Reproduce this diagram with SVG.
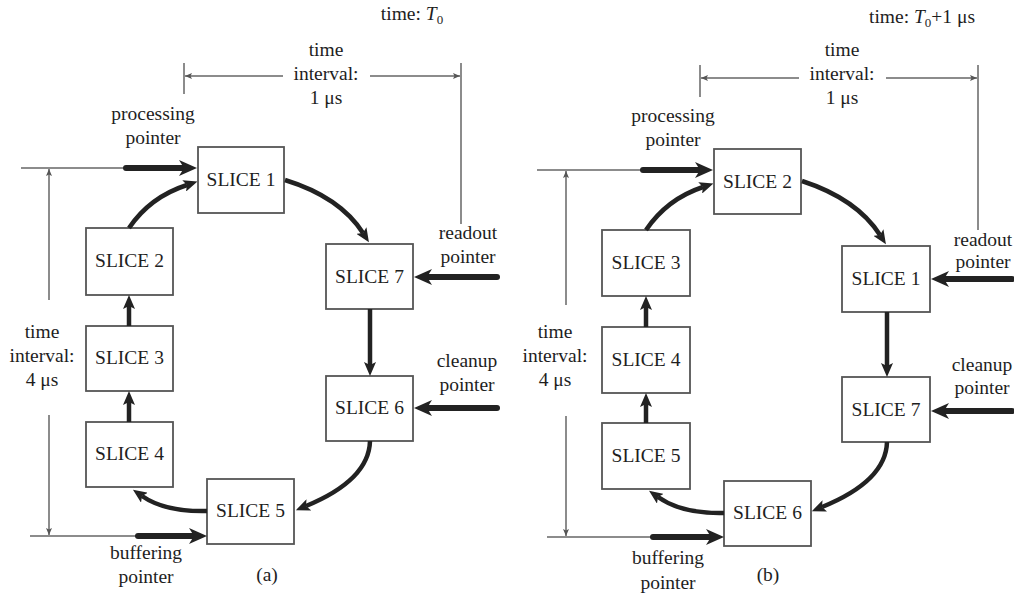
<svg xmlns="http://www.w3.org/2000/svg" width="1014" height="595" viewBox="0 0 1014 595">
<defs>
<marker id="big" viewBox="0 -8 18 16" refX="5" refY="0" markerWidth="18" markerHeight="16" markerUnits="userSpaceOnUse" orient="auto">
<path d="M0,-8 L18,0 L0,8 L5,0 z" fill="#222"/>
</marker>
<marker id="mid" viewBox="0 -6 14 12" refX="3" refY="0" markerWidth="14" markerHeight="12" markerUnits="userSpaceOnUse" orient="auto">
<path d="M0,-6 L14,0 L0,6 L3,0 z" fill="#222"/>
</marker>
<marker id="thin" viewBox="0 -3 7 6" refX="7" refY="0" markerWidth="7" markerHeight="6" markerUnits="userSpaceOnUse" orient="auto">
<path d="M0,-3 L7,0 L0,3 L1.5,0 z" fill="#555"/>
</marker>
</defs>
<style>
text{font-family:"Liberation Serif","Times New Roman",serif;font-size:19.5px;fill:#1e1e1e;text-anchor:middle}
.box{fill:#fff;stroke:#555;stroke-width:1.8}
.thinl{fill:none;stroke:#666;stroke-width:1.5}
.thick{fill:none;stroke:#222;stroke-width:6;stroke-linecap:round;marker-end:url(#big)}
.curve{fill:none;stroke:#222;stroke-width:4.5;marker-end:url(#mid)}
.vert{fill:none;stroke:#222;stroke-width:4.5;marker-end:url(#mid)}
.it{font-style:italic}
.sub{font-size:13px}
</style>

<!-- ============ Panel (a) ============ -->
<g id="nodes-a">
<g id="a-slice1"><rect class="box" x="198" y="147" width="86" height="66"/><text x="241" y="186">SLICE 1</text></g>
<g id="a-slice2"><rect class="box" x="86" y="228" width="87" height="67"/><text x="129.5" y="267">SLICE 2</text></g>
<g id="a-slice3"><rect class="box" x="86" y="326" width="87" height="65"/><text x="129.5" y="364">SLICE 3</text></g>
<g id="a-slice4"><rect class="box" x="86" y="422" width="87" height="65"/><text x="129.5" y="460">SLICE 4</text></g>
<g id="a-slice5"><rect class="box" x="207" y="479" width="87" height="65"/><text x="250.5" y="517">SLICE 5</text></g>
<g id="a-slice6"><rect class="box" x="326" y="376" width="87" height="65"/><text x="369.5" y="414">SLICE 6</text></g>
<g id="a-slice7"><rect class="box" x="326" y="244" width="87" height="65"/><text x="369.5" y="283">SLICE 7</text></g>
</g>

<g id="connectors-a">
<line class="thinl" x1="184" y1="63" x2="184" y2="94"/>
<line class="thinl" x1="461" y1="63" x2="461" y2="224"/>
<line class="thinl" x1="283" y1="76" x2="185" y2="76" style="marker-end:url(#thin)"/>
<line class="thinl" x1="370" y1="76" x2="460" y2="76" style="marker-end:url(#thin)"/>
<line class="thinl" x1="21" y1="168" x2="126" y2="168"/>
<line class="thinl" x1="30" y1="536" x2="138" y2="536"/>
<line class="thinl" x1="49" y1="300" x2="49" y2="169" style="marker-end:url(#thin)"/>
<line class="thinl" x1="49" y1="415" x2="49" y2="535" style="marker-end:url(#thin)"/>
<line class="thick" x1="126" y1="168" x2="184" y2="168"/>
<line class="thick" x1="138" y1="536" x2="194" y2="536"/>
<line class="thick" x1="497" y1="277" x2="427" y2="277"/>
<line class="thick" x1="497" y1="408" x2="427" y2="408"/>
<path class="curve" d="M129,228 Q150,197 187,185"/>
<path class="curve" d="M285,180 Q340,197 363,233"/>
<line class="vert" x1="370" y1="309" x2="370" y2="365"/>
<path class="curve" d="M370,441 Q369,480 306,506"/>
<path class="curve" d="M207,511 Q165,512 142,496"/>
<line class="vert" x1="129" y1="422" x2="129" y2="402"/>
<line class="vert" x1="129" y1="326" x2="129" y2="306"/>
</g>

<g id="labels-a">
<text x="412" y="20">time: <tspan class="it">T</tspan><tspan class="sub" dy="4">0</tspan></text>
<text x="326" y="56">time</text>
<text x="326" y="80">interval:</text>
<text x="326" y="104">1 μs</text>
<text x="153" y="120">processing</text>
<text x="153" y="144">pointer</text>
<text x="468" y="239">readout</text>
<text x="468" y="263">pointer</text>
<text x="467" y="367">cleanup</text>
<text x="467" y="391">pointer</text>
<text x="42" y="338">time</text>
<text x="42" y="362">interval:</text>
<text x="42" y="386">4 μs</text>
<text x="146" y="559">buffering</text>
<text x="146" y="583">pointer</text>
<text x="267" y="581">(a)</text>
</g>

<!-- ============ Panel (b) ============ -->
<g id="nodes-b">
<g id="b-slice2"><rect class="box" x="714" y="149" width="87" height="65"/><text x="757.5" y="188">SLICE 2</text></g>
<g id="b-slice3"><rect class="box" x="602" y="230" width="88" height="66"/><text x="646" y="269">SLICE 3</text></g>
<g id="b-slice4"><rect class="box" x="602" y="327" width="88" height="66"/><text x="646" y="366">SLICE 4</text></g>
<g id="b-slice5"><rect class="box" x="602" y="423" width="88" height="66"/><text x="646" y="462">SLICE 5</text></g>
<g id="b-slice6"><rect class="box" x="724" y="481" width="87" height="65"/><text x="767.5" y="519">SLICE 6</text></g>
<g id="b-slice7"><rect class="box" x="842" y="377" width="88" height="65"/><text x="886" y="416">SLICE 7</text></g>
<g id="b-slice1"><rect class="box" x="842" y="246" width="88" height="66"/><text x="886" y="285">SLICE 1</text></g>
</g>

<g id="connectors-b">
<line class="thinl" x1="700" y1="65" x2="700" y2="97"/>
<line class="thinl" x1="978" y1="65" x2="978" y2="230"/>
<line class="thinl" x1="799" y1="78" x2="701" y2="78" style="marker-end:url(#thin)"/>
<line class="thinl" x1="886" y1="78" x2="977" y2="78" style="marker-end:url(#thin)"/>
<line class="thinl" x1="537" y1="170" x2="643" y2="170"/>
<line class="thinl" x1="547" y1="537" x2="653" y2="537"/>
<line class="thinl" x1="566" y1="305" x2="566" y2="171" style="marker-end:url(#thin)"/>
<line class="thinl" x1="566" y1="416" x2="566" y2="536" style="marker-end:url(#thin)"/>
<line class="thick" x1="643" y1="170" x2="700" y2="170"/>
<line class="thick" x1="653" y1="537" x2="711" y2="537"/>
<line class="thick" x1="1012" y1="279" x2="944" y2="279"/>
<line class="thick" x1="1012" y1="411" x2="944" y2="411"/>
<path class="curve" d="M646,230 Q667,199 703,187"/>
<path class="curve" d="M802,181 Q857,199 880,235"/>
<line class="vert" x1="887" y1="312" x2="887" y2="366"/>
<path class="curve" d="M887,442 Q886,481 822,507"/>
<path class="curve" d="M724,513 Q682,514 658,497"/>
<line class="vert" x1="646" y1="423" x2="646" y2="404"/>
<line class="vert" x1="646" y1="327" x2="646" y2="307"/>
</g>

<g id="labels-b">
<text x="922" y="23">time: <tspan class="it">T</tspan><tspan class="sub" dy="4">0</tspan><tspan dy="-4">+1 μs</tspan></text>
<text x="842" y="56">time</text>
<text x="842" y="80">interval:</text>
<text x="842" y="104">1 μs</text>
<text x="673" y="122">processing</text>
<text x="673" y="146">pointer</text>
<text x="983" y="246">readout</text>
<text x="983" y="268">pointer</text>
<text x="982" y="371">cleanup</text>
<text x="982" y="394">pointer</text>
<text x="555" y="338">time</text>
<text x="555" y="362">interval:</text>
<text x="555" y="386">4 μs</text>
<text x="668" y="564">buffering</text>
<text x="668" y="589">pointer</text>
<text x="768" y="581">(b)</text>
</g>
</svg>
